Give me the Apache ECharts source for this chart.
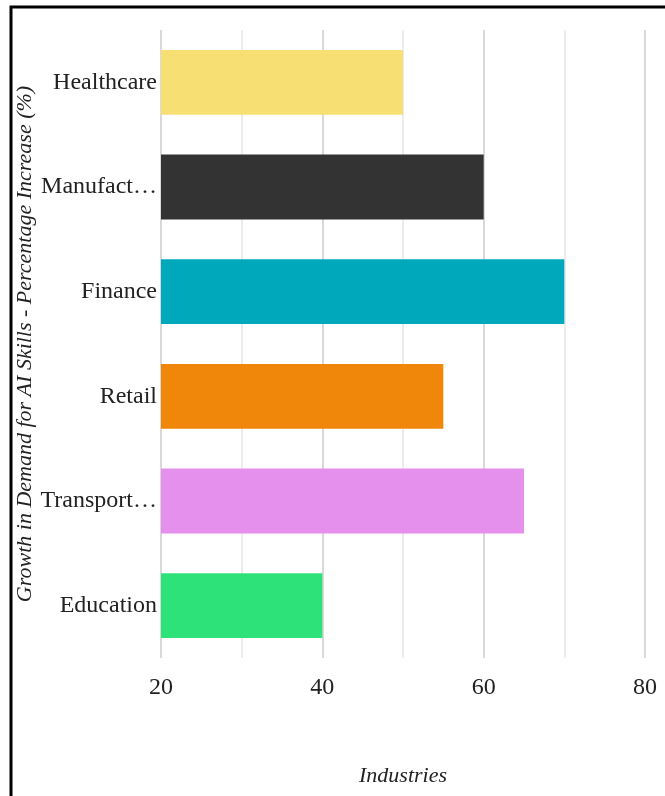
<!DOCTYPE html>
<html><head><meta charset="utf-8">
<script src="https://cdn.jsdelivr.net/npm/echarts@6/dist/echarts.min.js"></script>
<style>html,body{margin:0;padding:0;background:#fff}#c{width:665px;height:796px}</style>
</head><body><div id="c"></div>
<script>
const categories = ['Healthcare', 'Manufacturing', 'Finance', 'Retail', 'Transportation', 'Education'];
const values = [50, 60, 70, 55, 65, 40];
const barColors = ['#F7DF74', '#333333', '#00A8BC', '#F0860A', '#E590EC', '#2EE27A'];
const xTicks = [20, 40, 60, 80];
const yTitle = 'Growth in Demand for AI Skills - Percentage Increase (%)';
const xTitle = 'Industries';

const font = '"Liberation Serif", "Times New Roman", serif';
const chart = echarts.init(document.getElementById('c'), null, {renderer: 'canvas'});
chart.setOption({
  animation: false,
  backgroundColor: '#fff',
  graphic: [{
    type: 'rect', shape: {x: 11, y: 7, width: 800, height: 900},
    style: {fill: 'none', stroke: '#000', lineWidth: 3}, silent: true
  }],
  grid: {left: 161, right: 20, top: 30, bottom: 138, containLabel: false},
  xAxis: {
    type: 'value', min: 20, max: 80, interval: 10,
    name: xTitle, nameLocation: 'middle', nameGap: 107, nameMoveOverlap: false,
    nameTextStyle: {fontFamily: font, fontStyle: 'italic', fontSize: 22, color: '#222'},
    axisLine: {show: false}, axisTick: {show: false},
    axisLabel: {
      fontFamily: font, fontSize: 24, color: '#222', margin: 18,
      formatter: v => xTicks.indexOf(v) >= 0 ? String(v) : ''
    },
    splitLine: {show: true, lineStyle: {color: ['#cccccc', '#e6e6e6'], width: 1.5}}
  },
  yAxis: {
    type: 'category', data: categories, inverse: true,
    name: yTitle, nameLocation: 'middle', nameGap: 125, nameRotate: 90, nameMoveOverlap: false,
    nameTextStyle: {fontFamily: font, fontStyle: 'italic', fontSize: 22, color: '#222'},
    axisLine: {show: false}, axisTick: {show: false},
    axisLabel: {
      fontFamily: font, fontSize: 24, color: '#222', margin: 4,
      width: 120, overflow: 'truncate', ellipsis: '…'
    }
  },
  series: [{
    type: 'bar', barWidth: '62%',
    data: values.map((v, i) => ({value: v, itemStyle: {color: barColors[i]}}))
  }]
});
</script></body></html>
